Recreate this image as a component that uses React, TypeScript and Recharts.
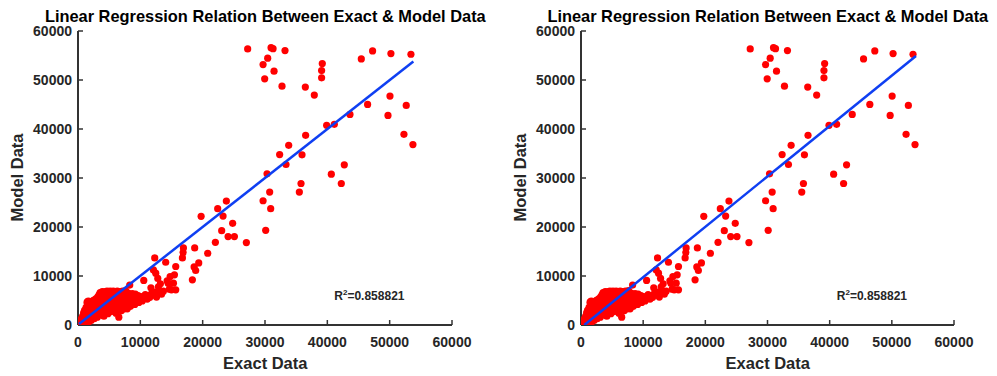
import React from 'react';
import { ScatterChart, Scatter, XAxis, YAxis } from 'recharts';

const axisTicks: number[] = [0, 10000, 20000, 30000, 40000, 50000, 60000];
const titleText = 'Linear Regression Relation Between Exact & Model Data';
const xLabel = 'Exact Data';
const yLabel = 'Model Data';
const r2Value = '0.858821';

// [exact, model] pairs
const clusterPairs: [number, number][] = [
  [50, 100], [150, 300], [250, 150], [300, 600], [400, 250], [450, 900], [100, 0], [350, 400],
  [550, 1300], [600, 500], [700, 200], [750, 1800], [800, 900], [900, 2500], [950, 400], [650, 1100],
  [1050, 3000], [1100, 1500], [1200, 700], [1250, 2200], [1300, 3600], [1400, 1000], [1450, 4600], [1350, 2900],
  [1550, 4800], [1600, 1900], [1700, 600], [1750, 3300], [1800, 4200], [1900, 2600], [1950, 1200], [1650, 4900],
  [2050, 4500], [2100, 900], [2200, 3800], [2250, 2000], [2300, 4900], [2400, 1500], [2450, 3000], [2150, 2600],
  [2550, 5100], [2600, 1300], [2700, 4300], [2750, 2400], [2800, 3500], [2900, 5400], [2950, 1900], [2650, 3000],
  [3050, 4600], [3100, 1600], [3200, 5800], [3250, 2800], [3300, 3900], [3400, 6200], [3450, 2100], [3150, 5000],
  [3550, 6600], [3600, 2400], [3700, 4300], [3750, 5400], [3800, 3200], [3900, 6800], [3950, 2000], [3650, 6100],
  [4050, 6700], [4100, 3600], [4200, 5000], [4250, 2500], [4300, 6000], [4400, 4400], [4450, 6800], [4150, 1800],
  [4550, 5500], [4600, 3000], [4700, 6700], [4750, 4000], [4800, 2300], [4900, 6200], [4950, 5000], [4650, 6900],
  [5050, 6800], [5100, 3400], [5200, 5700], [5250, 2700], [5300, 4600], [5400, 6500], [5450, 3900], [5150, 6900],
  [5550, 6700], [5600, 4200], [5700, 2900], [5750, 5200], [5800, 6800], [5900, 3600], [5950, 6100], [5650, 6900],
  [6050, 6700], [6100, 2400], [6200, 5600], [6250, 3800], [6300, 6900], [6400, 4500], [6450, 3100], [6150, 6300],
  [6550, 1600], [6600, 5000], [6700, 6800], [6750, 3500], [6800, 4200], [6900, 6000], [6950, 2900], [6650, 6600],
  [7050, 6700], [7100, 3900], [7200, 5300], [7250, 4600], [7300, 6400], [7400, 3300], [7450, 5800], [7150, 6900],
  [7550, 6600], [7600, 3700], [7700, 5000], [7750, 4400], [7800, 6200], [7900, 3300], [7950, 5600], [7650, 7000],
  [8050, 6500], [8100, 4300], [8200, 5400], [8350, 3800], [8450, 6000], [8150, 4900],
  [8550, 5800], [8600, 4100], [8700, 6400], [8800, 5000], [8900, 4500], [8950, 6100],
  [9050, 5300], [9100, 4200], [9200, 6300], [9300, 4800], [9450, 5700],
  [9550, 5000], [9650, 6000], [9750, 4600], [9900, 5400],
  [10100, 5800], [10300, 4900], [10600, 5500], [10800, 6200],
  [11100, 5300], [11300, 6000], [11500, 5600], [11800, 6400],
  [12100, 6100], [12300, 6700], [12600, 5700], [12900, 6500],
  [13400, 6300], [13700, 6900],
];

const midPairs: [number, number][] = [
  [8300, 8140], [10550, 9090], [11700, 7600], [12900, 7800], [13220, 8400], [14460, 8540],
  [15310, 8540], [14990, 7180], [15680, 7180], [14670, 7320], [12100, 11250], [12470, 10580],
  [12800, 9500], [14780, 9900], [15470, 10230], [14300, 9010], [12310, 13690], [14070, 12810],
  [15680, 11940], [16910, 15730], [16860, 14780], [16750, 13690], [18720, 15730], [19750, 22170],
  [20810, 14640], [18630, 11860], [19370, 12670], [18880, 11120], [18350, 9220],
];

const upperPairs: [number, number][] = [
  [22040, 16880], [22410, 23730], [23270, 22230], [23800, 25290], [24810, 20750], [23050, 19260],
  [24080, 18040], [25090, 18040], [27010, 16820], [29690, 25360], [30750, 27120], [30910, 23730],
  [30110, 19320], [30330, 30860], [32350, 34780], [33370, 32750], [33800, 36670], [35940, 34720],
  [36520, 38710], [35780, 28880], [35510, 27120], [39890, 40740], [41120, 40950], [40640, 30780],
  [42720, 32690], [42240, 28880], [43630, 42980], [46460, 45010], [49730, 42780], [50050, 46720],
  [52660, 44810], [52290, 38910], [53730, 36820], [27220, 56340], [30970, 56600], [31290, 56400],
  [33210, 56000], [30430, 54450], [29690, 53150], [31450, 51800], [29950, 50240], [32730, 48750],
  [36470, 48550], [37910, 46920], [39190, 53350], [39080, 51930], [39080, 50440], [45450, 54310],
  [47260, 55940], [50200, 55390], [53410, 55260],
];

const fitLeft: [number, number][] = [[150, 200], [53800, 53760]];
const fitRight: [number, number][] = [[530, 0], [53880, 54900]];

const points = [...clusterPairs, ...midPairs, ...upperPairs].map(([x, y]) => ({ x, y }));
const toXY = (arr: [number, number][]) => arr.map(([x, y]) => ({ x, y }));

const FONT = '"Liberation Sans", Arial, Helvetica, sans-serif';
const AXIS_COLOR = '#333333';
const TEXT_COLOR = '#262626';

const RedDot = (props: any) => <circle cx={props.cx} cy={props.cy} r={3.6} fill="#ff0000" />;
const NoDot = () => <g />;

type PanelProps = { fit: [number, number][]; top: number; plotW: number };

const Y_W = 60;
const X_H = 30;

function Panel({ fit, top, plotW }: PanelProps) {
  const tickStyle = { fill: TEXT_COLOR, fontSize: 14, fontWeight: 'bold', fontFamily: FONT };
  return (
    <ScatterChart
      width={498}
      height={376}
      margin={{ top, left: 78 - Y_W, right: 498 - 78 - plotW, bottom: 376 - top - 294 - X_H }}
    >
      <XAxis
        type="number"
        dataKey="x"
        domain={[0, 60000]}
        ticks={axisTicks}
        interval={0}
        height={X_H}
        tickSize={-5}
        tickMargin={17}
        axisLine={{ stroke: AXIS_COLOR, strokeWidth: 2 }}
        tickLine={{ stroke: AXIS_COLOR, strokeWidth: 1.5 }}
        tick={tickStyle}
        allowDataOverflow
      />
      <YAxis
        type="number"
        dataKey="y"
        domain={[0, 60000]}
        ticks={axisTicks}
        interval={0}
        width={Y_W}
        tickSize={-5}
        tickMargin={11}
        axisLine={{ stroke: AXIS_COLOR, strokeWidth: 2 }}
        tickLine={{ stroke: AXIS_COLOR, strokeWidth: 1.5 }}
        tick={tickStyle}
        allowDataOverflow
      />
      <Scatter data={points} isAnimationActive={false} shape={RedDot} />
      <Scatter
        data={toXY(fit)}
        isAnimationActive={false}
        line={{ stroke: '#0f3ff2', strokeWidth: 2.5 }}
        shape={NoDot}
      />
    </ScatterChart>
  );
}

function Labels({ dx }: { dx: number }) {
  const cx = 265.3 + dx;
  return (
    <g fontFamily={FONT} fontWeight="bold">
      <text x={cx} y={21.5} textAnchor="middle" fontSize={16.4} fill="#000">
        {titleText}
      </text>
      <text x={cx} y={369} textAnchor="middle" fontSize={16.5} fill={TEXT_COLOR}>
        {xLabel}
      </text>
      <text
        transform={`translate(${23.3 + dx},177.5) rotate(-90)`}
        textAnchor="middle"
        fontSize={16.5}
        fill={TEXT_COLOR}
      >
        {yLabel}
      </text>
      <text x={334.3 + dx} y={300} fontSize={12} fill={TEXT_COLOR}>
        <tspan>R</tspan>
        <tspan dy={-5} fontSize={8}>2</tspan>
        <tspan dy={5}>{'=' + r2Value}</tspan>
      </text>
    </g>
  );
}

export default function App() {
  return (
    <div style={{ position: 'absolute', left: 0, top: 0, width: 997, height: 376, background: '#fff' }}>
      <div style={{ position: 'absolute', left: 0, top: 0 }}>
        <Panel fit={fitLeft} top={31} plotW={374} />
      </div>
      <div style={{ position: 'absolute', left: 503, top: 0 }}>
        <Panel fit={fitRight} top={31} plotW={373} />
      </div>
      <svg
        width={997}
        height={376}
        style={{ position: 'absolute', left: 0, top: 0, pointerEvents: 'none' }}
      >
        <Labels dx={0} />
        <Labels dx={502.5} />
      </svg>
    </div>
  );
}
